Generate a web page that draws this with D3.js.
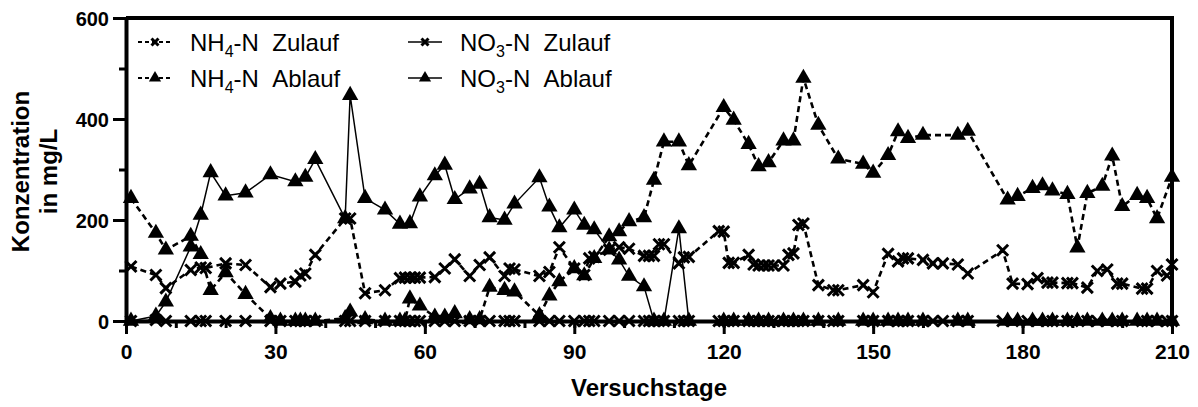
<!DOCTYPE html>
<html>
<head>
<meta charset="utf-8">
<script src="https://cdn.jsdelivr.net/npm/d3@7"></script>
<style>
  html, body { margin: 0; padding: 0; background: #fff; }
  svg { display: block; }
  text { font-family: "Liberation Sans", Arial, sans-serif; fill: #000; }
</style>
</head>
<body>
<svg id="chart" width="1198" height="407"></svg>
<script>
// Sampling days and concentrations (mg/L)
const nh4ZulaufDays = [1, 6, 8, 13, 15, 16, 20, 24, 29, 31, 34, 35, 36, 38, 44, 45, 48, 52, 55, 56, 57, 58, 59, 62, 64, 66, 69, 71, 73, 76, 77, 78, 83, 85, 87, 90, 92, 93, 94, 97, 99, 101, 104, 105, 106, 107, 108, 111, 112, 113, 119, 120, 121, 122, 125, 126, 127, 128, 129, 130, 132, 133, 134, 135, 136, 139, 142, 143, 148, 150, 153, 155, 156, 157, 160, 162, 164, 167, 169, 176, 178, 181, 183, 185, 186, 189, 190, 193, 195, 197, 199, 200, 204, 205, 207, 209, 210];
const nh4ZulaufValues = [108, 91, 65, 101, 106, 105, 114, 111, 67, 74, 78, 90, 94, 131, 203, 203, 55, 61, 85, 86, 86, 86, 86, 87, 104, 122, 89, 111, 126, 89, 104, 102, 89, 97, 146, 104, 91, 124, 127, 141, 146, 143, 129, 129, 129, 152, 152, 114, 126, 127, 178, 177, 115, 115, 131, 112, 110, 110, 110, 110, 110, 131, 134, 190, 193, 71, 61, 61, 71, 57, 133, 118, 124, 124, 121, 114, 114, 112, 94, 140, 74, 73, 85, 76, 76, 75, 75, 66, 99, 102, 74, 74, 64, 64, 99, 90, 112];

const no3ZulaufDays = nh4ZulaufDays;
const no3ZulaufValues = [0, 2, 0, 0, 0, 0, 0, 0, 0, 0, 0, 0, 0, 0, 0, 0, 0, 0, 0, 0, 0, 0, 0, 0, 0, 0, 0, 0, 0, 0, 0, 0, 0, 0, 0, 0, 0, 0, 0, 0, 0, 0, 0, 0, 0, 0, 0, 0, 0, 0, 0, 0, 0, 0, 0, 0, 0, 0, 0, 0, 0, 0, 0, 0, 0, 0, 0, 0, 0, 0, 0, 0, 0, 0, 0, 0, 0, 0, 0, 0, 0, 0, 0, 0, 0, 0, 0, 0, 0, 0, 0, 0, 0, 0, 0, 0, 0];

const nh4AblaufDays = [1, 6, 8, 13, 15, 17, 20, 24, 29, 31, 34, 35, 36, 38, 44, 45, 48, 52, 55, 56, 57, 59, 62, 64, 66, 69, 71, 73, 76, 78, 83, 85, 87, 90, 92, 94, 97, 99, 101, 104, 106, 108, 111, 113, 120, 122, 125, 127, 129, 132, 134, 136, 139, 143, 148, 150, 153, 155, 157, 160, 167, 169, 177, 179, 182, 184, 186, 189, 191, 193, 196, 198, 200, 203, 205, 207, 210];
const nh4AblaufValues = [243, 174, 141, 168, 132, 61, 96, 53, 5, 0, 0, 0, 0, 0, 5, 18, 3, 0, 0, 0, 44, 30, 8, 8, 15, 3, 3, 67, 61, 58, 11, 50, 78, 104, 90, 124, 167, 177, 197, 205, 279, 355, 355, 308, 423, 398, 350, 306, 314, 357, 357, 481, 388, 321, 311, 293, 328, 375, 362, 368, 368, 376, 240, 247, 263, 268, 258, 251, 145, 253, 267, 327, 227, 249, 243, 203, 285];

const no3AblaufDays = [1, 6, 8, 13, 15, 17, 20, 24, 29, 34, 36, 38, 44, 45, 48, 52, 55, 57, 59, 62, 64, 66, 69, 71, 73, 76, 78, 83, 85, 87, 90, 92, 94, 97, 99, 101, 104, 106, 108, 111, 113, 120, 122, 125, 127, 129, 132, 134, 136, 139, 143, 148, 150, 153, 155, 157, 160, 167, 169, 177, 179, 182, 184, 186, 189, 191, 193, 196, 198, 200, 203, 205, 207, 210];
const no3AblaufValues = [0, 10, 38, 147, 210, 294, 248, 254, 290, 276, 285, 320, 203, 447, 243, 220, 192, 193, 246, 288, 309, 241, 262, 271, 205, 200, 232, 284, 226, 185, 220, 190, 181, 141, 121, 89, 68, 0, 0, 183, 0, 0, 0, 0, 0, 0, 0, 0, 0, 0, 0, 0, 0, 0, 0, 0, 0, 0, 0, 0, 0, 0, 0, 0, 0, 0, 0, 0, 0, 0, 0, 0, 0, 0];

const xTicks = [0, 30, 60, 90, 120, 150, 180, 210];
const yTicks = [0, 200, 400, 600];

const series = [
  { label: "Zulauf", ion: "NH", sub: "4", days: nh4ZulaufDays, values: nh4ZulaufValues, dashed: true, marker: "x" },
  { label: "Ablauf", ion: "NH", sub: "4", days: nh4AblaufDays, values: nh4AblaufValues, dashed: true, marker: "tri" },
  { label: "Zulauf", ion: "NO", sub: "3", days: no3ZulaufDays, values: no3ZulaufValues, dashed: false, marker: "x" },
  { label: "Ablauf", ion: "NO", sub: "3", days: no3AblaufDays, values: no3AblaufValues, dashed: false, marker: "tri" }
];

const svg = d3.select("#chart");
const margin = { left: 126, right: 26, top: 18, bottom: 86 };
const W = 1198, H = 407;
const x = d3.scaleLinear().domain([0, 210]).range([margin.left, W - margin.right]);
const y = d3.scaleLinear().domain([0, 600]).range([H - margin.bottom, margin.top]);

// Frame (top and right edges)
svg.append("path")
  .attr("d", `M${x(0)},${y(600)}H${x(210)}V${y(0)}`)
  .attr("fill", "none").attr("stroke", "#000").attr("stroke-width", 4);

// Minor ticks
const gMinorX = svg.append("g").attr("transform", `translate(0,${y(0)})`)
  .call(d3.axisBottom(x).tickValues(d3.range(0, 211, 10)).tickSize(7).tickFormat(""));
const gMinorY = svg.append("g").attr("transform", `translate(${x(0)},0)`)
  .call(d3.axisLeft(y).tickValues(d3.range(0, 601, 100)).tickSize(7).tickFormat(""));
[gMinorX, gMinorY].forEach(g => {
  g.select(".domain").remove();
  g.selectAll("line").attr("stroke", "#000").attr("stroke-width", 3);
});

// Major axes
const gx = svg.append("g").attr("transform", `translate(0,${y(0)})`)
  .call(d3.axisBottom(x).tickValues(xTicks).tickSize(13).tickPadding(7).tickSizeOuter(0));
const gy = svg.append("g").attr("transform", `translate(${x(0)},0)`)
  .call(d3.axisLeft(y).tickValues(yTicks).tickSize(13).tickPadding(4).tickSizeOuter(0));
[gx, gy].forEach(g => {
  g.select(".domain").attr("stroke", "#000").attr("stroke-width", 4);
  g.selectAll(".tick line").attr("stroke", "#000").attr("stroke-width", 3);
  g.selectAll(".tick text").attr("font-family", "Liberation Sans, Arial, sans-serif")
    .attr("font-weight", "bold").attr("font-size", 20).attr("fill", "#000");
});
gx.selectAll(".tick text").attr("font-size", 21).attr("dy", "0.85em");
gy.selectAll(".tick text").attr("dy", "0.35em");

// Axis titles
svg.append("text").attr("x", (x(0) + x(210)) / 2).attr("y", 396)
  .attr("text-anchor", "middle").attr("font-weight", "bold").attr("font-size", 24)
  .text("Versuchstage");
const yt = svg.append("text").attr("transform", `translate(0,${(y(0) + y(600)) / 2 + 2}) rotate(-90)`)
  .attr("text-anchor", "middle").attr("font-weight", "bold").attr("font-size", 24);
yt.append("tspan").attr("x", 0).attr("y", 29).text("Konzentration");
yt.append("tspan").attr("x", 0).attr("y", 57).text("in mg/L");

// Marker drawing
const triPath = d3.symbol().type(d3.symbolTriangle);
function drawMarker(g, kind, cx, cy, s) {
  if (kind === "x") {
    g.append("path")
      .attr("d", `M${cx - s},${cy - s}L${cx + s},${cy + s}M${cx - s},${cy + s}L${cx + s},${cy - s}`)
      .attr("stroke", "#000").attr("stroke-width", 3).attr("fill", "none");
  } else {
    g.append("path").attr("d", triPath.size(s * s * 3.2)())
      .attr("transform", `translate(${cx},${cy})`).attr("fill", "#000");
  }
}

const line = d3.line().x(d => x(d[0])).y(d => y(d[1]));

series.forEach(s => {
  const pts = s.days.map((d, i) => [d, s.values[i]]);
  const g = svg.append("g");
  g.append("path").datum(pts).attr("d", line)
    .attr("fill", "none").attr("stroke", "#000")
    .attr("stroke-width", s.dashed ? 2.6 : 1.5)
    .attr("stroke-dasharray", s.dashed ? "6,4" : null);
  pts.forEach(p => drawMarker(g, s.marker, x(p[0]), y(p[1]), s.marker === "x" ? 5.5 : 6));
});

// Legend
const legendPos = [
  { col: 0, row: 0 }, { col: 0, row: 1 }, { col: 1, row: 0 }, { col: 1, row: 1 }
];
const colX = [138, 408];
const rowY = [42, 78];
series.forEach((s, i) => {
  const p = legendPos[i];
  const lx = colX[p.col], ly = rowY[p.row];
  const g = svg.append("g");
  g.append("line").attr("x1", lx).attr("x2", lx + 34).attr("y1", ly).attr("y2", ly)
    .attr("stroke", "#000").attr("stroke-width", s.dashed ? 2 : 1.5)
    .attr("stroke-dasharray", s.dashed ? "4,3" : null);
  drawMarker(g, s.marker, lx + 17, ly, s.marker === "x" ? 3.5 : 4.5);
  const t = g.append("text").attr("x", lx + 52).attr("y", ly + 9).attr("font-size", 24);
  t.append("tspan").text(s.ion);
  t.append("tspan").attr("font-size", 16).attr("dy", 6).text(s.sub);
  t.append("tspan").attr("dy", -6).text("-N\u00a0\u00a0" + s.label);
});
</script>
</body>
</html>
